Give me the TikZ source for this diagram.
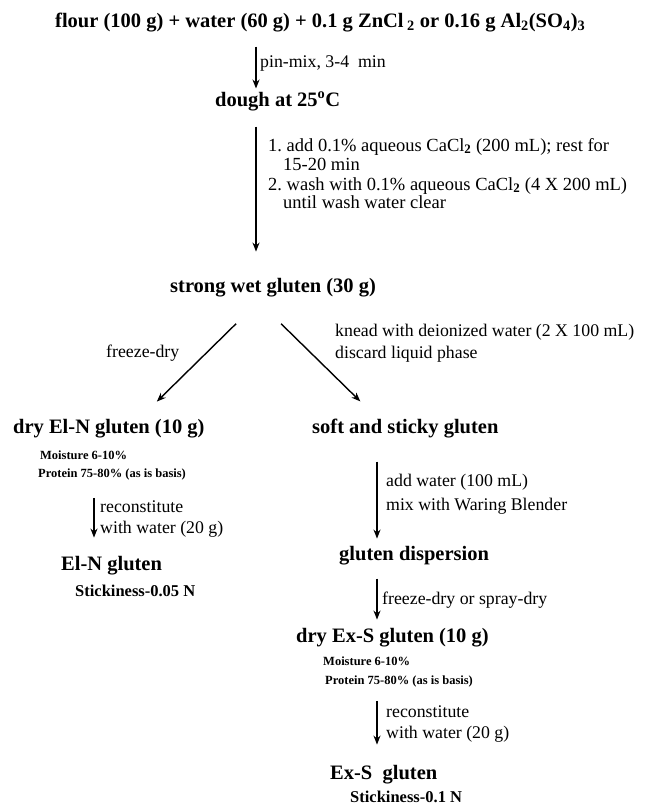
\documentclass[tikz,border=0pt]{standalone}
\usepackage{fontspec}
\setmainfont{Liberation Serif}
\usetikzlibrary{arrows.meta,calc}
\tikzset{
  head/.style={font=\bfseries\fontsize{20.5}{24}\selectfont, inner sep=0pt, anchor=base west},
  note/.style={font=\bfseries\fontsize{12.5}{15}\selectfont, inner sep=0pt, anchor=base west},
  stick/.style={font=\bfseries\fontsize{16.5}{19}\selectfont, inner sep=0pt, anchor=base west},
  lbl/.style={font=\fontsize{17.8}{21}\selectfont, inner sep=0pt, anchor=base west},
  washlbl/.style={lbl, font=\fontsize{18.5}{22}\selectfont},
  arr/.style={-{Stealth[length=9pt,width=7pt]}, line width=1.4pt}
}

\begin{document}
\begin{tikzpicture}[x=1pt,y=-1pt]
\useasboundingbox (0,0) rectangle (670,804);
% start and dough
\node[head] (flour) at (55,27) {flour (100 g) + water (60 g) + 0.1 g ZnCl\,\textsubscript{2} or 0.16 g Al\textsubscript{2}(SO\textsubscript{4})\textsubscript{3}};
\node[lbl] (pinmix) at (260,67) {pin-mix, 3-4\ \ min};
\node[head] (dough) at (215,106) {dough at 25\textsuperscript{o}C};
\node[washlbl] (wash1) at (268,151) {1.\ add 0.1\% aqueous CaCl\textsubscript{\textbf{2}} (200 mL); rest for};
\node[washlbl] (wash2) at (283,170) {15-20 min};
\node[washlbl] (wash3) at (268,190) {2.\ wash with 0.1\% aqueous CaCl\textsubscript{\textbf{2}} (4 X 200 mL)};
\node[washlbl] (wash4) at (283,208) {until wash water clear};
\node[head] (strong) at (170,292) {strong wet gluten (30 g)};
\coordinate (a1) at (256,0);
\draw[arr] (flour.south -| a1) ++(0,15) -- ($(dough.north -| a1)+(0,-3)$);
\draw[arr] (dough.south -| a1) ++(0,16) -- ($(strong.north -| a1)+(0,-26)$);
% left branch
\node[lbl] (fdry) at (106,357) {freeze-dry};
\node[head] (elndry) at (13,433) {dry El-N gluten (10 g)};
\node[note] (elnm) at (40,459) {Moisture 6-10\%};
\node[note] (elnp) at (38,477) {Protein 75-80\% (as is basis)};
\node[lbl] (recon1) at (100,512) {reconstitute};
\node[lbl] (recon2) at (100,533) {with water (20 g)};
\node[head] (eln) at (61,570) {El-N gluten};
\node[stick] (elnst) at (75,596) {Stickiness-0.05 N};
\draw[arr] ([shift={(-37,27)}]strong.south) -- ([shift={(48,-17)}]elndry.north);
\coordinate (a4) at (94,0);
\draw[arr] (elnp.south -| a4) ++(0,18) -- ($(eln.north -| a4)+(0,-18)$);
% right branch
\node[lbl] (knead1) at (335,336) {knead with deionized water (2 X 100 mL)};
\node[lbl] (knead2) at (335,358) {discard liquid phase};
\node[head] (soft) at (312,433) {soft and sticky gluten};
\node[lbl] (blend1) at (386,486) {add water (100 mL)};
\node[lbl] (blend2) at (386,510) {mix with Waring Blender};
\node[head] (disp) at (339,560) {gluten dispersion};
\node[lbl] (spray) at (382,604) {freeze-dry or spray-dry};
\node[head] (exsdry) at (296,642) {dry Ex-S gluten (10 g)};
\node[note] (exsm) at (323,665) {Moisture 6-10\%};
\node[note] (exsp) at (325,684) {Protein 75-80\% (as is basis)};
\node[lbl] (recon3) at (386,717) {reconstitute};
\node[lbl] (recon4) at (386,738) {with water (20 g)};
\node[head] (exs) at (330,779) {Ex-S\ \ gluten};
\node[stick] (exsst) at (350,802) {Stickiness-0.1 N};
\draw[arr] ([shift={(8,27)}]strong.south) -- ([shift={(-45,-17)}]soft.north);
\coordinate (a3) at (377,0);
\draw[arr] (soft.south -| a3) ++(0,24) -- ($(disp.north -| a3)+(0,-7)$);
\draw[arr] (disp.south -| a3) ++(0,14) -- ($(exsdry.north -| a3)+(0,-8)$);
\draw[arr] (exsp.south -| a3) ++(0,14) -- ($(exs.north -| a3)+(0,-20)$);
\end{tikzpicture}
\end{document}
